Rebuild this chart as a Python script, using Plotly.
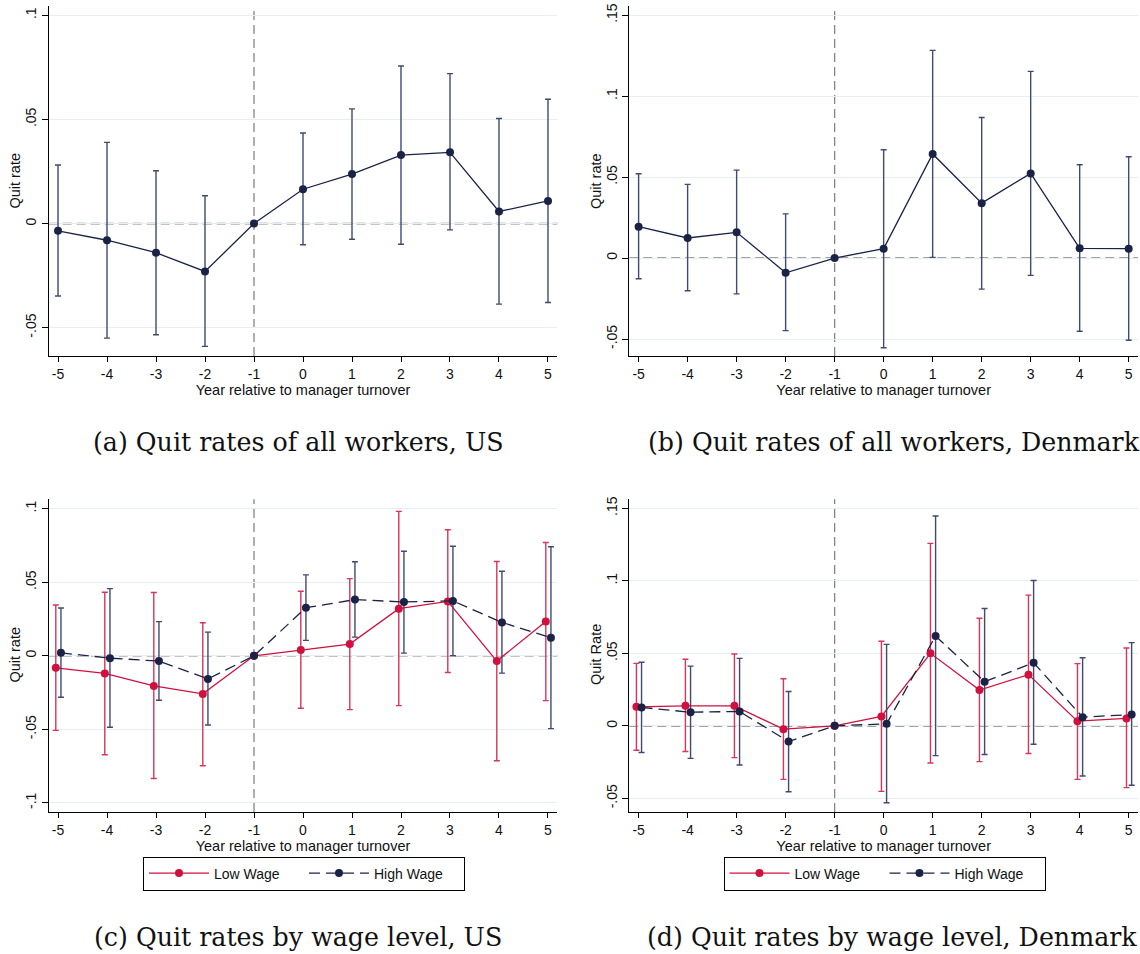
import plotly.graph_objects as go

years = [-5, -4, -3, -2, -1, 0, 1, 2, 3, 4, 5]

# Panel (a) US all workers
us_all = [-0.0035, -0.008, -0.014, -0.023, 0.0, 0.0165, 0.0238, 0.0329, 0.0342, 0.0058, 0.0109]
us_all_hi = [0.0281, 0.039, 0.0254, 0.0134, 0.0, 0.0435, 0.0551, 0.0757, 0.072, 0.0505, 0.0597]
us_all_lo = [-0.0348, -0.055, -0.0534, -0.059, 0.0, -0.0102, -0.0075, -0.0099, -0.003, -0.0387, -0.0379]

# Panel (b) Denmark all workers
dk_all = [0.0194, 0.0124, 0.0159, -0.0091, 0.0, 0.0058, 0.0643, 0.0339, 0.0523, 0.006, 0.0058]
dk_all_hi = [0.0521, 0.0455, 0.0543, 0.0273, 0.0, 0.0669, 0.1283, 0.0868, 0.1153, 0.0576, 0.0626]
dk_all_lo = [-0.0128, -0.0202, -0.0221, -0.0448, 0.0, -0.0554, 0.0004, -0.0192, -0.0107, -0.0452, -0.0508]

# Panel (c) US by wage
us_low = [-0.0082, -0.012, -0.0205, -0.0259, 0.0, 0.0039, 0.008, 0.032, 0.037, -0.0036, 0.0234]
us_low_hi = [0.0345, 0.0432, 0.043, 0.0225, 0.0, 0.0439, 0.0525, 0.0982, 0.0857, 0.0641, 0.077]
us_low_lo = [-0.0507, -0.0673, -0.0834, -0.0748, 0.0, -0.0357, -0.0366, -0.0339, -0.0114, -0.0714, -0.0305]
us_high = [0.002, -0.0016, -0.0036, -0.0157, 0.0, 0.0327, 0.0382, 0.0366, 0.0373, 0.0227, 0.0123]
us_high_hi = [0.0325, 0.0457, 0.0232, 0.0161, 0.0, 0.055, 0.0639, 0.0711, 0.0745, 0.0575, 0.0741]
us_high_lo = [-0.0282, -0.0486, -0.0302, -0.047, 0.0, 0.0105, 0.0127, 0.0018, 0.0, -0.0118, -0.0495]

# Panel (d) Denmark by wage
dk_low = [0.0131, 0.0138, 0.0138, -0.0023, 0.0, 0.0065, 0.05, 0.0247, 0.0353, 0.0032, 0.0051]
dk_low_hi = [0.0431, 0.0459, 0.0495, 0.0325, 0.0, 0.0583, 0.1258, 0.0742, 0.0901, 0.0429, 0.0537]
dk_low_lo = [-0.0168, -0.0177, -0.0219, -0.0369, 0.0, -0.0452, -0.0256, -0.0247, -0.0191, -0.0369, -0.0426]
dk_high = [0.0127, 0.0094, 0.0099, -0.0108, 0.0, 0.0014, 0.062, 0.0304, 0.0435, 0.006, 0.0078]
dk_high_hi = [0.0438, 0.0412, 0.0465, 0.0237, 0.0, 0.0562, 0.1447, 0.0809, 0.1002, 0.047, 0.0574]
dk_high_lo = [-0.0184, -0.0224, -0.027, -0.0454, 0.0, -0.053, -0.0205, -0.0198, -0.0127, -0.0346, -0.041]

x_tick_labels = ["-5", "-4", "-3", "-2", "-1", "0", "1", "2", "3", "4", "5"]
captions = ["(a) Quit rates of all workers, US", "(b) Quit rates of all workers, Denmark",
            "(c) Quit rates by wage level, US", "(d) Quit rates by wage level, Denmark"]

NAVY = "#1a2346"
NAVY_ERR = "#3f4a6e"
RED = "#d0103f"
RED_ERR = "#d8345c"
GRID = "#e6eef1"
REF = "#858585"
SANS = "Liberation Sans, Arial, sans-serif"
SERIF = "DejaVu Serif, serif"

W, H = 1140, 954


def px_to_paper_x(p):
    return p / W


def px_to_paper_y(p):
    return 1 - p / H


LOW_OFF = -0.045
HIGH_OFF = 0.06


def shift(xs, off):
    return [x + (off if x != -1 else 0) for x in xs]


def trace(xs, y, hi, lo, color, ecolor, dash, name, xa, ya, legend=None, show=False):
    return go.Scatter(
        x=xs, y=y, mode="lines+markers", name=name,
        line=dict(color=color, width=1.3, dash=dash),
        marker=dict(color=color, size=8, symbol="circle"),
        error_y=dict(type="data", symmetric=False,
                     array=[h - v for h, v in zip(hi, y)],
                     arrayminus=[v - l for v, l in zip(y, lo)],
                     color=ecolor, thickness=1.4, width=3),
        xaxis=xa, yaxis=ya, showlegend=show,
        legend=legend if legend else "legend",
    )


HDASH = "11px,6px"

fig = go.Figure()
fig.add_trace(trace(years, us_all, us_all_hi, us_all_lo, NAVY, NAVY_ERR, "solid", "US", "x", "y"))
fig.add_trace(trace(years, dk_all, dk_all_hi, dk_all_lo, NAVY, NAVY_ERR, "solid", "DK", "x2", "y2"))
fig.add_trace(trace(shift(years, LOW_OFF), us_low, us_low_hi, us_low_lo, RED, RED_ERR, "solid", "Low Wage", "x3", "y3", "legend", True))
fig.add_trace(trace(shift(years, HIGH_OFF), us_high, us_high_hi, us_high_lo, NAVY, NAVY_ERR, HDASH, "High Wage", "x3", "y3", "legend", True))
fig.add_trace(trace(shift(years, LOW_OFF), dk_low, dk_low_hi, dk_low_lo, RED, RED_ERR, "solid", "Low Wage", "x4", "y4", "legend2", True))
fig.add_trace(trace(shift(years, HIGH_OFF), dk_high, dk_high_hi, dk_high_lo, NAVY, NAVY_ERR, HDASH, "High Wage", "x4", "y4", "legend2", True))

left_dom = [px_to_paper_x(48.7), px_to_paper_x(557.3)]
right_dom = [px_to_paper_x(629.3), px_to_paper_x(1138)]
top_dom = [px_to_paper_y(356), px_to_paper_y(6)]
bot_dom = [px_to_paper_y(812), px_to_paper_y(499.3)]

panels = [
    ("", left_dom, top_dom, [-0.0636, 0.1045], [-0.05, 0, 0.05, 0.1], ["-.05", "0", ".05", ".1"], "Quit rate", 14.6, 181),
    ("2", right_dom, top_dom, [-0.0605, 0.1557], [-0.05, 0, 0.05, 0.1, 0.15], ["-.05", "0", ".05", ".1", ".15"], "Quit rate", 596, 181),
    ("3", left_dom, bot_dom, [-0.1062, 0.1064], [-0.1, -0.05, 0, 0.05, 0.1], ["-.1", "-.05", "0", ".05", ".1"], "Quit rate", 14.6, 655),
    ("4", right_dom, bot_dom, [-0.0594, 0.1562], [-0.05, 0, 0.05, 0.1, 0.15], ["-.05", "0", ".05", ".1", ".15"], "Quit Rate", 596, 655),
]

layout = {}
annotations = []
for suf, xd, yd, yr, tv, tt, ytitle, tx, ty in panels:
    layout["xaxis" + suf] = dict(
        domain=xd, anchor="y" + suf, range=[-5.19, 5.19],
        tickvals=years, ticktext=x_tick_labels, ticks="outside", ticklen=5, tickwidth=1,
        tickcolor="black", showline=True, linecolor="black", linewidth=1.2,
        showgrid=False, zeroline=False, automargin=False,
        tickfont=dict(family=SANS, size=14, color="#111"),
        title=dict(text="Year relative to manager turnover", standoff=2,
                   font=dict(family=SANS, size=14.5, color="#111")),
    )
    layout["yaxis" + suf] = dict(
        domain=yd, anchor="x" + suf, range=yr,
        tickvals=tv, ticktext=tt, ticks="outside", ticklen=6, tickwidth=1,
        tickcolor="black", showline=True, linecolor="black", linewidth=1.2,
        showgrid=True, gridcolor=GRID, gridwidth=1.2, zeroline=False, automargin=False,
        tickangle=-90, tickfont=dict(family=SANS, size=14, color="#111"),
    )
    annotations.append(dict(text=ytitle, x=px_to_paper_x(tx), y=px_to_paper_y(ty), xref="paper", yref="paper",
                            xanchor="center", yanchor="middle", textangle=-90, showarrow=False,
                            font=dict(family=SANS, size=14.5, color="#111")))

shapes = []
for suf in ["", "2", "3", "4"]:
    xr = "x" + suf
    yr_ = "y" + suf
    shapes.append(dict(type="line", xref=xr + " domain", yref=yr_, x0=0, x1=1, y0=0, y1=0,
                       line=dict(color=REF, width=1.6, dash="9px,5px"), layer="below"))
    shapes.append(dict(type="line", xref=xr, yref=yr_ + " domain", x0=-1, x1=-1, y0=0, y1=1,
                       line=dict(color=REF, width=1.3, dash="9px,5px"), layer="below"))

cap_pos = [(298, 443), (894, 443), (298, 937), (892, 937)]
for text, (cx, cy) in zip(captions, cap_pos):
    annotations.append(dict(text=text, x=px_to_paper_x(cx), y=px_to_paper_y(cy), xref="paper", yref="paper",
                            xanchor="center", yanchor="middle", showarrow=False,
                            font=dict(family=SERIF, size=25.3, color="#111")))

legend_common = dict(orientation="h", xanchor="center", yanchor="middle",
                     bordercolor="black", borderwidth=1, bgcolor="white",
                     font=dict(family=SANS, size=14, color="#111"),
                     itemwidth=60, entrywidth=85, entrywidthmode="pixels")

fig.update_layout(
    width=W, height=H, margin=dict(l=0, r=0, t=0, b=0),
    paper_bgcolor="white", plot_bgcolor="white",
    shapes=shapes, annotations=annotations,
    legend=dict(x=px_to_paper_x(304), y=px_to_paper_y(873.5), **legend_common),
    legend2=dict(x=px_to_paper_x(884.5), y=px_to_paper_y(873.5), **legend_common),
    **layout,
)

fig.write_html(
    "out.html",
    config={"displayModeBar": False},
    post_script="document.body.style.margin='0';document.body.style.padding='0';document.body.style.overflow='hidden';",
)
